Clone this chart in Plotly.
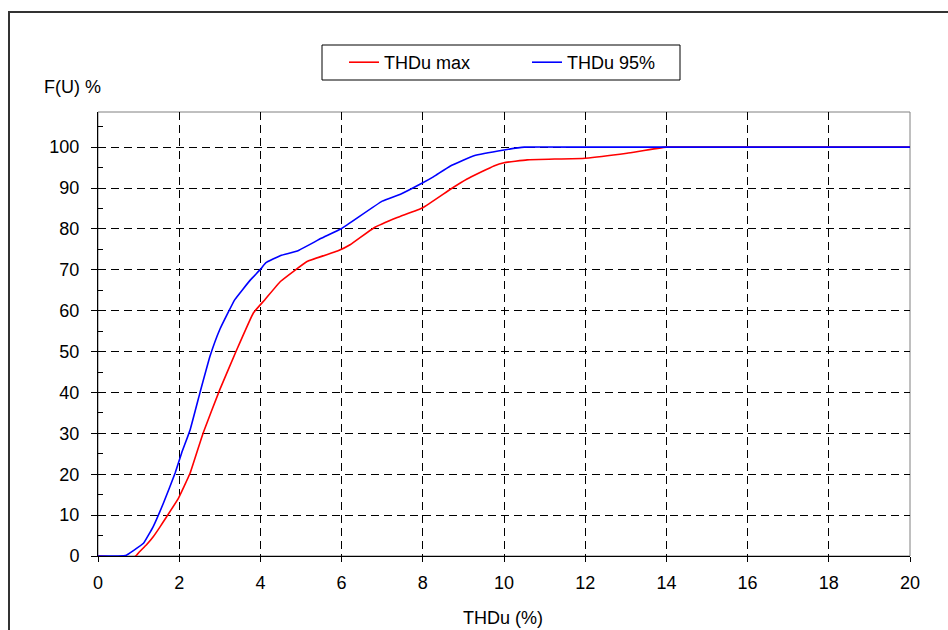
import plotly.graph_objects as go

# THDu max (red)
x_max = [0, 0.3, 0.55, 0.7, 0.92, 1.03, 1.2, 1.36, 1.52, 1.69, 1.98, 2.27, 2.59, 3.0, 3.42, 3.83,
         4.11, 4.5, 5.16, 5.9, 6.22, 6.8, 7.37, 8.0, 8.68, 9.09, 9.75, 10.0, 10.57, 12.0, 13.03,
         14.0, 16, 18, 20]
y_max = [0, -0.2, -0.6, -0.7, -0.1, 1.1, 2.8, 4.7, 7.0, 9.6, 14.1, 20.3, 30.1, 40.7, 50.5, 59.5,
         62.7, 67.2, 72.1, 74.6, 76.2, 80.3, 82.8, 85.2, 89.7, 92.2, 95.4, 96.2, 96.9, 97.3, 98.5,
         100, 100, 100, 100]

# THDu 95% (blue)
x_95 = [0, 0.5, 0.7, 0.87, 1.12, 1.36, 1.61, 1.90, 2.06, 2.27, 2.51, 2.76, 3.0, 3.37, 3.76, 4.0,
        4.13, 4.5, 4.91, 5.5, 6.0, 7.0, 7.45, 8.0, 8.27, 8.68, 9.26, 10.0, 10.5, 12, 14, 16, 18, 20]
y_95 = [0, 0, 0.2, 1.3, 3.1, 7.2, 12.9, 20.3, 25.2, 30.9, 39.9, 48.9, 55.4, 62.7, 67.6, 70.1,
        71.7, 73.5, 74.6, 77.7, 80.1, 86.8, 88.5, 91.3, 92.8, 95.4, 97.9, 99.3, 100, 100, 100, 100,
        100, 100]

series_names = ["THDu max", "THDu 95%"]
x_ticks = [0, 2, 4, 6, 8, 10, 12, 14, 16, 18, 20]
y_ticks = [0, 10, 20, 30, 40, 50, 60, 70, 80, 90, 100]

FONT = "Liberation Sans, Arial, sans-serif"
FS = 18

fig = go.Figure()
fig.add_trace(go.Scatter(x=x_max, y=y_max, mode="lines", name=series_names[0],
                         line=dict(color="#FF0000", width=1.6, shape="spline", smoothing=0.3)))
fig.add_trace(go.Scatter(x=x_95, y=y_95, mode="lines", name=series_names[1],
                         line=dict(color="#0000FF", width=1.6, shape="spline", smoothing=0.3)))

L, R, T, B = 98, 38, 112, 74
W, H = 948, 630
pw, ph = W - L - R, H - T - B

def px2paper_x(px):
    return (px - L) / pw

def px2paper_y(py):
    return (H - B - py) / ph

fig.update_layout(
    width=W, height=H,
    margin=dict(l=L, r=R, t=T, b=B, pad=0),
    paper_bgcolor="white", plot_bgcolor="white",
    font=dict(family=FONT, size=FS, color="black"),
    showlegend=True,
    legend=dict(orientation="h", x=px2paper_x(344), xanchor="left",
                y=px2paper_y(62.5), yanchor="middle",
                borderwidth=0, bgcolor="rgba(0,0,0,0)",
                entrywidth=138, entrywidthmode="pixels",
                font=dict(family=FONT, size=FS)),
    xaxis=dict(range=[0, 20], tickvals=x_ticks, ticktext=[str(v) for v in x_ticks],
               showgrid=True, gridcolor="black", griddash="8px,5px", gridwidth=1,
               showline=True, linecolor="black", linewidth=1,
               ticks="outside", ticklen=5, tickcolor="black", ticklabelstandoff=5,
               zeroline=False, automargin=False),
    yaxis=dict(range=[0, 108.6], tickvals=y_ticks, ticktext=[str(v) for v in y_ticks],
               showgrid=True, gridcolor="black", griddash="8px,5px", gridwidth=1,
               showline=True, linecolor="black", linewidth=1,
               ticks="outside", ticklen=6, tickcolor="black", ticklabelstandoff=8,
               minor=dict(dtick=5, ticks="inside", ticklen=5, tickcolor="black", showgrid=False),
               zeroline=False, automargin=False),
    shapes=[
        # plot area border
        dict(type="rect", xref="paper", yref="paper", x0=0, x1=1, y0=0, y1=1,
             line=dict(color="#808080", width=1), layer="below"),
        # outer chart frame
        dict(type="rect", xref="paper", yref="paper",
             x0=px2paper_x(9), x1=px2paper_x(960), y0=px2paper_y(640), y1=px2paper_y(12),
             line=dict(color="#333333", width=2), layer="below"),
        # legend box
        dict(type="rect", xref="paper", yref="paper",
             x0=px2paper_x(322), x1=px2paper_x(680), y0=px2paper_y(80), y1=px2paper_y(45),
             line=dict(color="black", width=1), fillcolor="white", layer="below"),
    ],
    annotations=[
        dict(text="F(U) %", xref="paper", yref="paper", x=px2paper_x(42), y=px2paper_y(87),
             xanchor="left", yanchor="middle", showarrow=False,
             font=dict(family=FONT, size=FS)),
        dict(text="THDu (%)", xref="paper", yref="paper", x=px2paper_x(503), y=px2paper_y(618),
             xanchor="center", yanchor="middle", showarrow=False,
             font=dict(family=FONT, size=FS)),
    ],
)

fig.write_html("out.html", config={"displayModeBar": False},
               post_script="document.body.style.margin='0';")
